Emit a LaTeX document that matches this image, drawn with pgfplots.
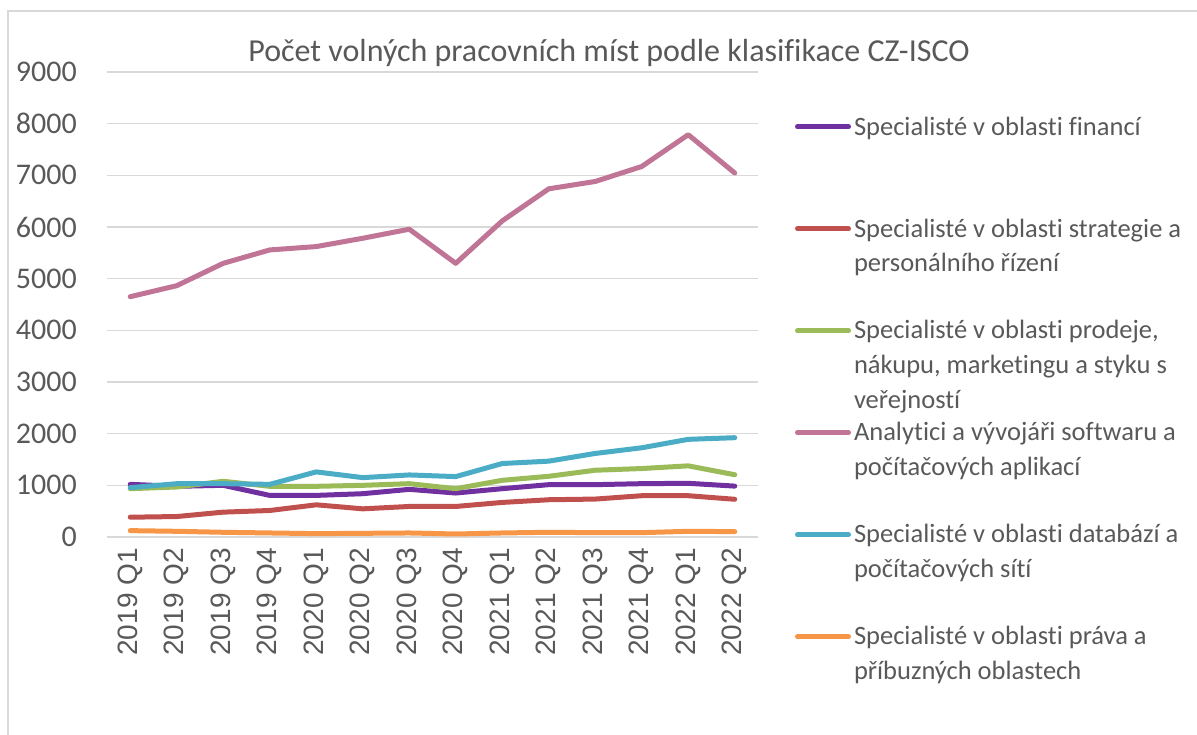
\documentclass[border=0pt]{standalone}
\usepackage{pgfplots}
\pgfplotsset{compat=1.18}
\usepackage{fontspec}
\setmainfont{Carlito}[Ligatures=NoCommon]
\newfontfamily\arialfont{Liberation Sans}
\definecolor{txt}{HTML}{595959}
\definecolor{gridc}{HTML}{D9D9D9}
\definecolor{cpurple}{HTML}{7030A0}
\definecolor{cred}{HTML}{C0504D}
\definecolor{cgreen}{HTML}{9BBB59}
\definecolor{cpink}{HTML}{C07496}
\definecolor{cteal}{HTML}{4BACC6}
\definecolor{corange}{HTML}{F79646}
\newcommand\lgd[1]{\raisebox{0pt}[20pt][0pt]{\parbox[t]{340pt}{\raggedright\fontsize{26.5}{35}\selectfont\leavevmode\color{txt}#1}}}
\begin{document}
\begin{tikzpicture}
\draw[gridc, line width=1.2pt] (-99pt,-198pt) -- (-99pt,526pt) -- (1090pt,526pt);
\begin{axis}[
 name=ax,
 at={(0pt,0pt)}, anchor=south west,
 scale only axis, width=651pt, height=465pt,
 xmin=-0.5, xmax=13.5, ymin=0, ymax=9000,
 axis line style={draw=none},
 major tick length=0pt,
 ytick={0,1000,...,9000},
 ymajorgrids, grid style={gridc, line width=1.5pt},
 xtick={0,...,13},
 xticklabels={2019 Q1,2019 Q2,2019 Q3,2019 Q4,2020 Q1,2020 Q2,2020 Q3,2020 Q4,2021 Q1,2021 Q2,2021 Q3,2021 Q4,2022 Q1,2022 Q2},
 xticklabel style={yshift=-11pt, rotate=90, anchor=east, inner sep=0pt, font=\arialfont\fontsize{28}{32}\selectfont, text=txt},
 yticklabel style={font=\fontsize{30}{36}\selectfont, text=txt, anchor=east, inner sep=0pt, xshift=-30pt},
 /pgf/number format/assume math mode=true,
 /pgf/number format/1000 sep={},
 clip=false,
 legend style={at={(1.05684,0.90753)}, anchor=north west, draw=none, fill=none, inner sep=0pt, outer sep=0pt, row sep=80.5pt, column sep=3pt, nodes={inner sep=0pt, outer sep=0pt}},
 legend cell align=left,
 legend image code/.code={\draw[#1, line width=5pt, line cap=round] (2.5pt,-1pt) -- (53.5pt,-1pt);},
 every axis plot/.append style={line width=5pt, line join=round, line cap=round},
]
\addplot[cpurple] coordinates {(0,1019) (1,981) (2,1000) (3,805) (4,805) (5,838) (6,922) (7,851) (8,935) (9,1013) (10,1013) (11,1032) (12,1039) (13,985)};
\addlegendentry{\lgd{Specialisté v oblasti financí}}
\addplot[cred] coordinates {(0,383) (1,396) (2,481) (3,513) (4,623) (5,545) (6,591) (7,591) (8,669) (9,721) (10,734) (11,799) (12,799) (13,730)};
\addlegendentry{\lgd{Specialisté v oblasti strategie a\\personálního řízení}}
\addplot[cgreen] coordinates {(0,935) (1,968) (2,1078) (3,981) (4,981) (5,1000) (6,1032) (7,935) (8,1097) (9,1175) (10,1292) (11,1325) (12,1377) (13,1205)};
\addlegendentry{\lgd{Specialisté v oblasti prodeje,\\nákupu, marketingu a styku s\\veřejností}}
\addplot[cpink] coordinates {(0,4651) (1,4864) (2,5297) (3,5556) (4,5621) (5,5782) (6,5957) (7,5297) (8,6118) (9,6739) (10,6881) (11,7171) (12,7786) (13,7045)};
\addlegendentry{\lgd{Analytici a vývojáři softwaru a\\počítačových aplikací}}
\addplot[cteal] coordinates {(0,955) (1,1032) (2,1032) (3,1019) (4,1260) (5,1149) (6,1201) (7,1169) (8,1422) (9,1468) (10,1617) (11,1727) (12,1890) (13,1922)};
\addlegendentry{\lgd{Specialisté v oblasti databází a\\počítačových sítí}}
\addplot[corange] coordinates {(0,123) (1,110) (2,91) (3,78) (4,65) (5,71) (6,78) (7,58) (8,78) (9,91) (10,84) (11,84) (12,110) (13,104)};
\addlegendentry{\lgd{Specialisté v oblasti práva a\\příbuzných oblastech}}
\end{axis}
\node[font=\fontsize{32}{38}\selectfont, text=txt, anchor=base] at (502pt,475pt) {Počet volných pracovních míst podle klasifikace CZ-ISCO};
\pgfresetboundingbox
\path (-107pt,-198pt) rectangle (1090pt,537pt);
\end{tikzpicture}
\end{document}
